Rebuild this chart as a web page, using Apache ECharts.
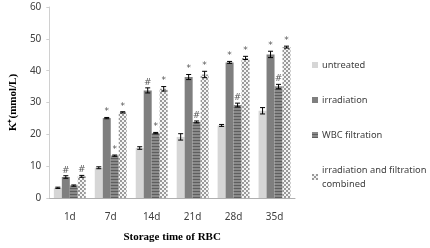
<!DOCTYPE html>
<html>
<head>
<meta charset="utf-8">
<script src="https://cdn.jsdelivr.net/npm/echarts@6/dist/echarts.min.js"></script>
<style>
  html, body { margin: 0; padding: 0; background: #fff; }
  #chart { width: 430px; height: 248px; }
</style>
</head>
<body>
<div id="chart"></div>
<script>
// categories + values
const days = ['1d', '7d', '14d', '21d', '28d', '35d']
const seriesNames = ['untreated', 'irradiation', 'WBC filtration', 'irradiation and filtration\ncombined']

const untreated   = [3.2, 9.5, 15.7, 19.2, 22.8, 27.4]
const irradiation = [6.6, 25.1, 33.8, 38.0, 42.6, 45.1]
const wbcFilter   = [3.9, 13.3, 20.4, 23.9, 29.2, 35.0]
const combined    = [6.8, 26.9, 34.3, 38.8, 44.0, 47.4]

const errUntreated   = [0.2, 0.3, 0.4, 1.0, 0.3, 1.0]
const errIrradiation = [0.4, 0.2, 0.8, 0.8, 0.3, 1.0]
const errWbc         = [0.2, 0.2, 0.2, 0.3, 0.6, 0.7]
const errCombined    = [0.3, 0.2, 0.7, 1.0, 0.5, 0.3]

// significance marks above bars
const markUntreated   = ['', '', '', '', '', '']
const markIrradiation = ['#', '*', '#', '*', '*', '*']
const markWbc         = ['', '*', '*', '#', '#', '#']
const markCombined    = ['#', '*', '*', '*', '*', '*']

const values = [untreated, irradiation, wbcFilter, combined]
const errors = [errUntreated, errIrradiation, errWbc, errCombined]
const marks  = [markUntreated, markIrradiation, markWbc, markCombined]

// fill patterns
function stripes() {
  const c = document.createElement('canvas')
  c.width = 4; c.height = 3
  const g = c.getContext('2d')
  g.fillStyle = '#8a8a8a'; g.fillRect(0, 0, 4, 3)
  g.fillStyle = '#5e5e5e'; g.fillRect(0, 2, 4, 1)
  return c
}
function checks() {
  const c = document.createElement('canvas')
  c.width = 4; c.height = 4
  const g = c.getContext('2d')
  g.fillStyle = '#f4f4f4'; g.fillRect(0, 0, 4, 4)
  g.fillStyle = '#9a9a9a'
  g.fillRect(0, 0, 2, 2); g.fillRect(2, 2, 2, 2)
  return c
}
const fills = [
  '#d6d6d6',
  '#7f7f7f',
  { image: stripes(), repeat: 'repeat' },
  { image: checks(), repeat: 'repeat' },
]

const chart = echarts.init(document.getElementById('chart'), null, { renderer: 'canvas' })

const nS = values.length
const barSeries = values.map((vals, si) => ({
  type: 'bar',
  name: seriesNames[si],
  barGap: '0%',
  barCategoryGap: '22%',
  itemStyle: { color: fills[si] },
  data: vals.map((v, i) => ({
    value: v,
    label: {
      show: marks[si][i] !== '',
      position: 'top',
      distance: errors[si][i] * 3.23 + 1,
      formatter: () => marks[si][i],
      fontSize: 9,
      color: '#595959',
      fontFamily: 'DejaVu Sans',
    },
  })),
  z: 2,
}))

// error bars drawn over each bar
const errSeries = {
  type: 'custom',
  name: 'err',
  data: days.map((d, i) => [i]),
  renderItem: (params, api) => {
    const i = api.value(0)
    const band = api.size([1, 0])[0]
    const inner = band * (1 - 0.22)
    const bw = inner / nS
    const children = []
    for (let s = 0; s < nS; s++) {
      const v = values[s][i], e = errors[s][i]
      const base = api.coord([i, v])
      const x = base[0] - inner / 2 + bw * (s + 0.5)
      const yTop = api.coord([i, v + e])[1]
      const yBot = api.coord([i, v - e])[1]
      const st = { stroke: '#000', lineWidth: 1 }
      children.push({ type: 'line', shape: { x1: x, y1: yTop, x2: x, y2: yBot }, style: st })
      children.push({ type: 'line', shape: { x1: x - 2.5, y1: yTop, x2: x + 2.5, y2: yTop }, style: st })
      children.push({ type: 'line', shape: { x1: x - 2.5, y1: yBot, x2: x + 2.5, y2: yBot }, style: st })
    }
    return { type: 'group', children }
  },
  z: 5,
  silent: true,
}

chart.setOption({
  backgroundColor: '#fff',
  animation: false,
  grid: { left: 42, right: 135, top: 7, bottom: 47 },
  legend: {
    data: seriesNames,
    orient: 'vertical',
    left: 307,
    top: 53,
    itemWidth: 6,
    itemHeight: 6,
    itemGap: 21,
    itemStyle: { borderWidth: 0 },
    icon: 'rect',
    textStyle: { fontSize: 9.3, color: '#404040', fontFamily: 'Noto Sans', lineHeight: 14, padding: [0, 0, 0, -1] },
  },
  xAxis: {
    type: 'category',
    data: days,
    name: 'Storage time of RBC',
    nameLocation: 'middle',
    nameGap: 34,
    nameTextStyle: { fontFamily: 'Liberation Serif', fontWeight: 'bold', fontSize: 11, color: '#000' },
    axisLine: { lineStyle: { color: '#b0b0b0' } },
    axisTick: { show: false },
    axisLabel: { color: '#404040', fontSize: 10, fontFamily: 'Noto Sans', margin: 14 },
  },
  yAxis: {
    type: 'value',
    min: 0, max: 60, interval: 10,
    name: 'K\u207A(mmol/L)',
    nameLocation: 'middle',
    nameGap: 30,
    nameTextStyle: { fontFamily: 'Liberation Serif', fontWeight: 'bold', fontSize: 11, color: '#000' },
    axisLine: { show: true, lineStyle: { color: '#d0d0d0' } },
    axisTick: { show: true, length: 3, lineStyle: { color: '#d0d0d0' } },
    axisLabel: { color: '#404040', fontSize: 10, fontFamily: 'Noto Sans', margin: 8 },
    splitLine: { show: false },
  },
  series: [...barSeries, errSeries],
})
</script>
</body>
</html>
